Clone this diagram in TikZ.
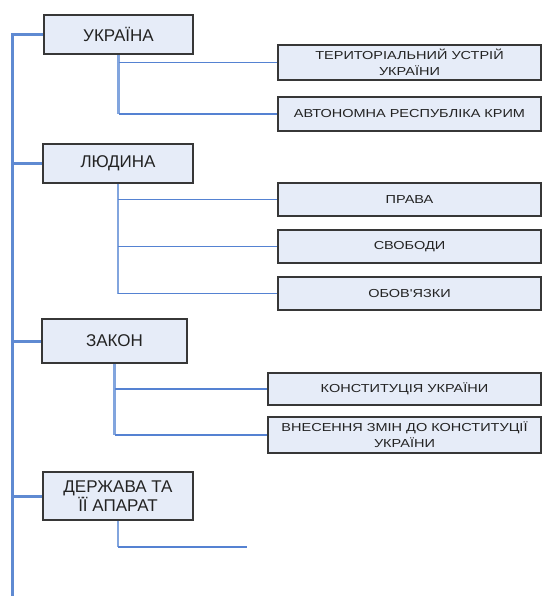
\documentclass[tikz,border=0pt]{standalone}
\usepackage{fontspec}
\setmainfont{Liberation Sans}
\newfontfamily\childfont[FakeStretch=1.25]{Liberation Sans}
\definecolor{boxfill}{RGB}{230,236,248}
\definecolor{boxedge}{RGB}{55,55,55}
\definecolor{mainblue}{RGB}{95,138,210}
\definecolor{branchblue}{RGB}{130,165,222}
\definecolor{leafblue}{RGB}{85,130,210}
\definecolor{txt}{RGB}{35,35,35}
\tikzset{
  mainbox/.style={draw=boxedge, line width=1.8pt, fill=boxfill, inner sep=0pt,
    align=center, text=txt, font=\fontsize{17}{19}\selectfont},
  leafbox/.style={draw=boxedge, line width=1.4pt, fill=boxfill, inner sep=0pt,
    align=center, text=txt, font=\childfont\fontsize{11.6}{16}\selectfont},
  mainline/.style={draw=mainblue, line width=3pt},
  branchline/.style={draw=branchblue, line width=2.2pt},
  leafline/.style={draw=leafblue, line width=1.8pt}
}
\begin{document}
\begin{tikzpicture}[x=1pt, y=-1pt]
\useasboundingbox[fill=white] (0,0) rectangle (542,596);
% main boxes
\node[mainbox, minimum width=149pt, minimum height=39pt] (u) at (118.5,34.5) {УКРАЇНА};
\node[mainbox, minimum width=150pt, minimum height=39pt] (l) at (118,163.5) {ЛЮДИНА};
\node[mainbox, minimum width=145pt, minimum height=44pt] (z) at (114.5,341) {ЗАКОН};
\node[mainbox, minimum width=150pt, minimum height=48pt] (d) at (118,496) {ДЕРЖАВА ТА\\ЇЇ АПАРАТ};
% leaf boxes
\node[leafbox, minimum width=263pt, minimum height=35pt] (t1) at (409.5,62.5) {ТЕРИТОРІАЛЬНИЙ УСТРІЙ\\УКРАЇНИ};
\node[leafbox, minimum width=263pt, minimum height=34pt] (t2) at (409.5,114) {АВТОНОМНА РЕСПУБЛІКА КРИМ};
\node[leafbox, minimum width=263pt, minimum height=33pt] (p1) at (409.5,199.5) {ПРАВА};
\node[leafbox, minimum width=263pt, minimum height=33pt] (p2) at (409.5,246.5) {СВОБОДИ};
\node[leafbox, minimum width=263pt, minimum height=33pt] (p3) at (409.5,293.5) {ОБОВ'ЯЗКИ};
\node[leafbox, minimum width=273pt, minimum height=32pt] (k1) at (404.5,389) {КОНСТИТУЦІЯ УКРАЇНИ};
\node[leafbox, minimum width=273pt, minimum height=36pt] (k2) at (404.5,435) {ВНЕСЕННЯ ЗМІН ДО КОНСТИТУЦІЇ\\УКРАЇНИ};
% main trunk
\coordinate (top) at (12,34.5);
\coordinate (bot) at (12,596);
\coordinate (dend) at (247,547);
\draw[mainline] (u.west) -- (top) -- (bot);
\draw[mainline] (l.west) -- (l.west -| top);
\draw[mainline] (z.west) -- (z.west -| top);
\draw[mainline] (d.west) -- (d.west -| top);
% branches
\draw[branchline] (u.south) -- (u.south |- t2.west);
\draw[leafline] (u.south |- t1.west) -- (t1.west);
\draw[leafline] (u.south |- t2.west) -- (t2.west);
\draw[branchline] (l.south) -- (l.south |- p3.west);
\draw[leafline] (l.south |- p1.west) -- (p1.west);
\draw[leafline] (l.south |- p2.west) -- (p2.west);
\draw[leafline] (l.south |- p3.west) -- (p3.west);
\draw[branchline] (z.south) -- (z.south |- k2.west);
\draw[leafline] (z.south |- k1.west) -- (k1.west);
\draw[leafline] (z.south |- k2.west) -- (k2.west);
\draw[branchline] (d.south) -- (d.south |- dend);
\draw[leafline] (d.south |- dend) -- (dend);
\end{tikzpicture}
\end{document}
